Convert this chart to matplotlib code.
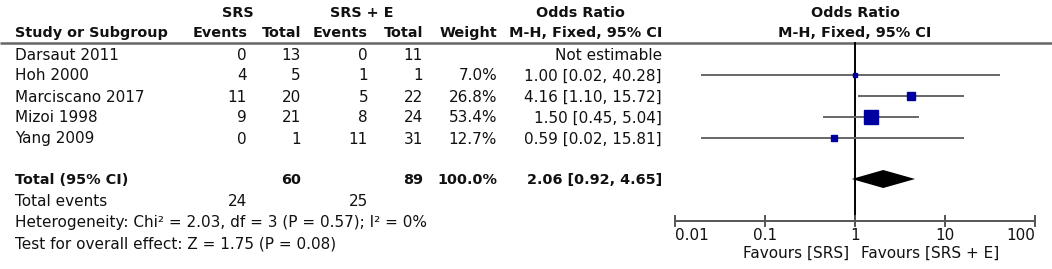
import matplotlib
matplotlib.use("Agg")
import matplotlib.pyplot as plt
import numpy as np

# ---- data ----
studies = ["Darsaut 2011", "Hoh 2000", "Marciscano 2017", "Mizoi 1998", "Yang 2009"]
srs_events = [0, 4, 11, 9, 0]
srs_total = [13, 5, 20, 21, 1]
srse_events = [0, 1, 5, 8, 11]
srse_total = [11, 1, 22, 24, 31]
weights = [None, 7.0, 26.8, 53.4, 12.7]
or_est = [None, 1.00, 4.16, 1.50, 0.59]
or_lo = [None, 0.02, 1.10, 0.45, 0.02]
or_hi = [None, 40.28, 15.72, 5.04, 15.81]
total_srs, total_srse = 60, 89
total_events_srs, total_events_srse = 24, 25
pooled = (2.06, 0.92, 4.65)
heterogeneity = "Heterogeneity: Chi² = 2.03, df = 3 (P = 0.57); I² = 0%"
overall = "Test for overall effect: Z = 1.75 (P = 0.08)"
ticks = [0.01, 0.1, 1, 10, 100]
tick_labels = ["0.01", "0.1", "1", "10", "100"]
fav_left, fav_right = "Favours [SRS]", "Favours [SRS + E]"

W, H = 1052, 269
fig = plt.figure(figsize=(W / 100, H / 100), dpi=100)
ax = fig.add_axes([0, 0, 1, 1])
ax.set_xlim(0, W)
ax.set_ylim(H, 0)
ax.axis("off")

FS = 11.0
FSB = 10.4
col = "#111111"

row_y = [55, 76, 97, 118, 139]
y_total, y_tev, y_het, y_test = 180, 202, 223, 244
x_study = 15
x_ev1, x_tot1, x_ev2, x_tot2, x_w, x_or = 247, 301, 368, 423, 497, 662

# headers
ax.text(238, 13, "SRS", ha="center", va="center", fontsize=FSB, fontweight="bold", color=col)
ax.text(362, 13, "SRS + E", ha="center", va="center", fontsize=FSB, fontweight="bold", color=col)
ax.text(580, 13, "Odds Ratio", ha="center", va="center", fontsize=FSB, fontweight="bold", color=col)
ax.text(855, 13, "Odds Ratio", ha="center", va="center", fontsize=FSB, fontweight="bold", color=col)
ax.text(x_study, 33, "Study or Subgroup", ha="left", va="center", fontsize=FSB, fontweight="bold", color=col)
for x, t in [(x_ev1, "Events"), (x_tot1, "Total"), (x_ev2, "Events"), (x_tot2, "Total"),
             (x_w, "Weight"), (x_or, "M-H, Fixed, 95% CI")]:
    ax.text(x, 33, t, ha="right", va="center", fontsize=FSB, fontweight="bold", color=col)
ax.text(855, 33, "M-H, Fixed, 95% CI", ha="center", va="center", fontsize=FSB, fontweight="bold", color=col)
ax.plot([0, W], [43, 43], color="#666666", lw=1.8, solid_capstyle="butt")

# rows
for i, s in enumerate(studies):
    y = row_y[i]
    ax.text(x_study, y, s, ha="left", va="center", fontsize=FS, color=col)
    ax.text(x_ev1, y, str(srs_events[i]), ha="right", va="center", fontsize=FS, color=col)
    ax.text(x_tot1, y, str(srs_total[i]), ha="right", va="center", fontsize=FS, color=col)
    ax.text(x_ev2, y, str(srse_events[i]), ha="right", va="center", fontsize=FS, color=col)
    ax.text(x_tot2, y, str(srse_total[i]), ha="right", va="center", fontsize=FS, color=col)
    if weights[i] is None:
        ax.text(x_or, y, "Not estimable", ha="right", va="center", fontsize=FS, color=col)
    else:
        ax.text(x_w, y, f"{weights[i]:.1f}%", ha="right", va="center", fontsize=FS, color=col)
        ax.text(x_or, y, f"{or_est[i]:.2f} [{or_lo[i]:.2f}, {or_hi[i]:.2f}]",
                ha="right", va="center", fontsize=FS, color=col)

ax.text(x_study, y_total, "Total (95% CI)", ha="left", va="center", fontsize=FSB, fontweight="bold", color=col)
ax.text(x_tot1, y_total, str(total_srs), ha="right", va="center", fontsize=FSB, fontweight="bold", color=col)
ax.text(x_tot2, y_total, str(total_srse), ha="right", va="center", fontsize=FSB, fontweight="bold", color=col)
ax.text(x_w, y_total, "100.0%", ha="right", va="center", fontsize=FSB, fontweight="bold", color=col)
ax.text(x_or, y_total, f"{pooled[0]:.2f} [{pooled[1]:.2f}, {pooled[2]:.2f}]",
        ha="right", va="center", fontsize=FSB, fontweight="bold", color=col)
ax.text(x_study, y_tev, "Total events", ha="left", va="center", fontsize=FS, color=col)
ax.text(x_ev1, y_tev, str(total_events_srs), ha="right", va="center", fontsize=FS, color=col)
ax.text(x_ev2, y_tev, str(total_events_srse), ha="right", va="center", fontsize=FS, color=col)
ax.text(x_study, y_het, heterogeneity, ha="left", va="center", fontsize=FS, color=col)
ax.text(x_study, y_test, overall, ha="left", va="center", fontsize=FS, color=col)

# forest axes
fx0, fx1 = 675, 1035
fa = fig.add_axes([fx0 / W, 0, (fx1 - fx0) / W, 1])
fa.set_xscale("log")
fa.set_xlim(0.01, 100)
fa.set_ylim(H, 0)
fa.axis("off")
fa.patch.set_alpha(0)

y_axis = 221
fa.plot([1, 1], [43, y_axis], color="black", lw=1.4, zorder=2)
msizes = [0, 2.5, 6, 10, 4.5]
for i in range(len(studies)):
    if or_est[i] is None:
        continue
    y = row_y[i] - 1
    fa.plot([or_lo[i], or_hi[i]], [y, y], color="#666666", lw=1.4, zorder=3)
    fa.plot([or_est[i]], [y], marker="s", ms=msizes[i], color="#0000a0", mec="#0000a0", zorder=4)
fa.fill([pooled[1], pooled[0], pooled[2], pooled[0]], [179, 170, 179, 188], color="black", zorder=4, lw=0)

fa.plot([ticks[0], ticks[-1]], [y_axis, y_axis], color="#555555", lw=1.4, clip_on=False)
for t, lab in zip(ticks, tick_labels):
    fa.plot([t, t], [y_axis - 5, y_axis + 5], color="#555555", lw=1.4, clip_on=False)
    ha = "center"
    if t == ticks[0]:
        ha = "left"
    elif t == ticks[-1]:
        ha = "right"
    fa.text(t, 235, lab, ha=ha, va="center", fontsize=FS, color=col)
fa.text(0.86, 253, fav_left, ha="right", va="center", fontsize=FS, color=col)
fa.text(1.17, 253, fav_right, ha="left", va="center", fontsize=FS, color=col)

fig.savefig("out.png", dpi=100)
